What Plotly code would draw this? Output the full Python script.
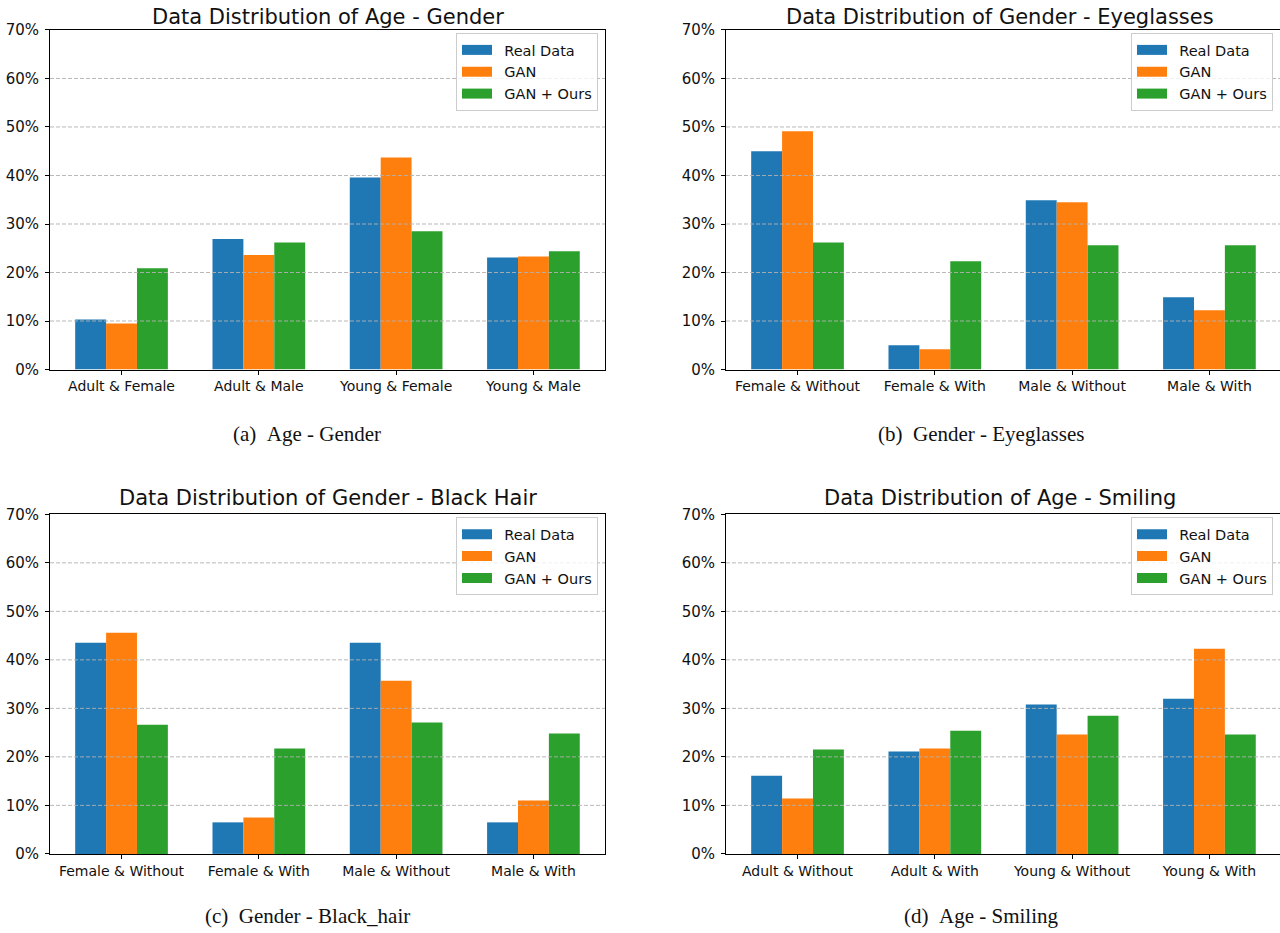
import plotly.graph_objects as go

series_names = ["Real Data", "GAN", "GAN + Ours"]
colors = ["#1f77b4", "#ff7f0e", "#2ca02c"]

titles = [
    "Data Distribution of Age - Gender",
    "Data Distribution of Gender - Eyeglasses",
    "Data Distribution of Gender - Black Hair",
    "Data Distribution of Age - Smiling",
]
captions = [
    "(a)\u2002Age - Gender",
    "(b)\u2002Gender - Eyeglasses",
    "(c)\u2002Gender - Black_hair",
    "(d)\u2002Age - Smiling",
]

cats_a = ["Adult & Female", "Adult & Male", "Young & Female", "Young & Male"]
real_a = [0.103, 0.269, 0.396, 0.231]
gan_a = [0.095, 0.236, 0.437, 0.233]
ours_a = [0.209, 0.262, 0.285, 0.244]

cats_b = ["Female & Without", "Female & With", "Male & Without", "Male & With"]
real_b = [0.450, 0.050, 0.349, 0.149]
gan_b = [0.491, 0.042, 0.345, 0.122]
ours_b = [0.262, 0.223, 0.256, 0.256]

cats_c = ["Female & Without", "Female & With", "Male & Without", "Male & With"]
real_c = [0.435, 0.065, 0.435, 0.065]
gan_c = [0.456, 0.075, 0.357, 0.110]
ours_c = [0.266, 0.217, 0.271, 0.248]

cats_d = ["Adult & Without", "Adult & With", "Young & Without", "Young & With"]
real_d = [0.161, 0.211, 0.308, 0.320]
gan_d = [0.114, 0.217, 0.246, 0.423]
ours_d = [0.215, 0.254, 0.285, 0.246]

panels = [
    (cats_a, [real_a, gan_a, ours_a]),
    (cats_b, [real_b, gan_b, ours_b]),
    (cats_c, [real_c, gan_c, ours_c]),
    (cats_d, [real_d, gan_d, ours_d]),
]

W, H = 1280, 933


def px(v):
    return v / W


def py(v):
    # target screen y -> paper fraction (compensates the capture's vertical mapping)
    page = (v - 8) / 0.982
    return 1 - page / H


# plot area boxes in screen pixels: (left, right, top, bottom)
boxes = [
    (50, 605, 29, 369),
    (726, 1280, 29, 369),
    (50, 605, 514, 854),
    (726, 1280, 514, 854),
]
title_x = [328, 1000, 328, 1000]
title_y = [16, 16, 498, 498]
caption_x = [307, 981, 307, 981]
caption_y = [434, 434, 916, 916]
legend_right = [598, 1273, 598, 1273]

fig = go.Figure()
font_main = "DejaVu Sans"
layout_updates = {}
annotations = []
shapes = []
unit_px = 137.3

for i, (cats, vals) in enumerate(panels):
    n = i + 1
    xa = "x" if n == 1 else f"x{n}"
    ya = "y" if n == 1 else f"y{n}"
    lg = "legend" if n == 1 else f"legend{n}"
    for s, (name, col) in enumerate(zip(series_names, colors)):
        fig.add_trace(go.Bar(
            x=cats, y=vals[s], name=name, marker=dict(color=col, line=dict(width=0)),
            xaxis=xa, yaxis=ya, showlegend=False,
        ))
    # legend handles (wide rectangles, like matplotlib patches)
    for name, col in zip(series_names, colors):
        fig.add_trace(go.Scatter(
            x=[None], y=[None], mode="lines", name="\u2002" + name,
            line=dict(color=col, width=11),
            xaxis=xa, yaxis=ya, legend=lg, showlegend=True,
        ))
    l, r, t, b = boxes[i]
    xkey = "xaxis" if n == 1 else f"xaxis{n}"
    ykey = "yaxis" if n == 1 else f"yaxis{n}"
    left_pad = 0.521
    xr = [-left_pad, -left_pad + (r - l) / unit_px]
    right_spine = n in (1, 3)
    layout_updates[xkey] = dict(
        domain=[px(l), px(r)], anchor=ya, type="category", range=xr,
        showline=True, mirror=True, linecolor="black", linewidth=1,
        ticks="outside", ticklen=4, tickcolor="black", showgrid=False,
        tickfont=dict(family=font_main, size=14, color="#111"),
        ticklabelstandoff=0, fixedrange=True,
    )
    layout_updates[ykey] = dict(
        domain=[py(b), py(t)], anchor=xa, range=[0, 0.7],
        tickvals=[0, 0.1, 0.2, 0.3, 0.4, 0.5, 0.6, 0.7], tickformat=".0%",
        showline=True, mirror=right_spine, linecolor="black", linewidth=1,
        ticks="outside", ticklen=4, tickcolor="black", showgrid=False, zeroline=False,
        tickfont=dict(family=font_main, size=15, color="#111"),
        ticklabelstandoff=3, fixedrange=True,
    )
    layout_updates[lg] = dict(
        x=px(legend_right[i]), y=py(t + 3), xanchor="right", yanchor="top",
        xref="paper", yref="paper",
        bgcolor="rgba(255,255,255,0.8)", bordercolor="#cccccc", borderwidth=1,
        font=dict(family=font_main, size=14.5, color="#111"),
        tracegroupgap=0,
    )
    for gv in [0.1, 0.2, 0.3, 0.4, 0.5, 0.6]:
        shapes.append(dict(
            type="line", xref=f"{xa} domain", yref=ya, x0=0, x1=1, y0=gv, y1=gv,
            line=dict(color="rgba(176,176,176,0.9)", width=1, dash="4px,2px"), layer="above",
        ))
    annotations.append(dict(
        text=titles[i], x=px(title_x[i]), y=py(title_y[i]), xref="paper", yref="paper",
        showarrow=False, xanchor="center", yanchor="middle",
        font=dict(family=font_main, size=21, color="#111"),
    ))
    annotations.append(dict(
        text=captions[i], x=px(caption_x[i]), y=py(caption_y[i]), xref="paper", yref="paper",
        showarrow=False, xanchor="center", yanchor="middle",
        font=dict(family="Liberation Serif", size=21, color="#111"),
    ))

fig.update_layout(
    width=W, height=H, margin=dict(l=0, r=0, t=0, b=0),
    paper_bgcolor="white", plot_bgcolor="white",
    barmode="group", bargap=0.325, bargroupgap=0,
    annotations=annotations, shapes=shapes,
    **layout_updates,
)

fig.write_html(
    "out.html",
    config={"displayModeBar": False},
    post_script="document.body.style.margin='0';document.body.style.overflow='hidden';",
)
